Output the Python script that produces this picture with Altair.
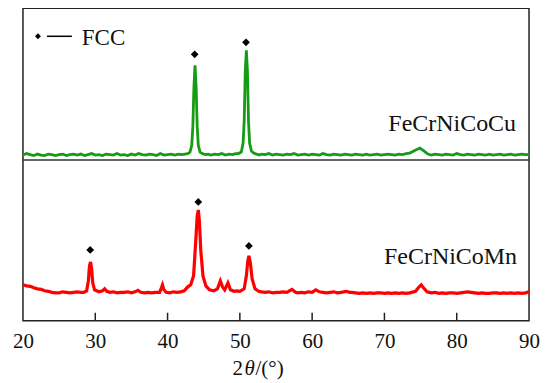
import altair as alt
import pandas as pd

# ---- data: (2theta, offset intensity), 0 = bottom of frame ----
cu_points = [
    (20, 166), (20.5, 167.5), (21, 166.5), (21.5, 165.5), (22, 167), (22.5, 166), (23, 165.5),
    (23.5, 167), (24, 166.5), (24.5, 165.5), (25, 166.5), (25.5, 167), (26, 165.5), (26.5, 166.5),
    (27, 167), (27.5, 166), (28, 167), (28.5, 165.5), (29, 166.5), (29.5, 167.5), (30, 166),
    (30.5, 166.5), (31, 165.5), (31.5, 167), (32, 166.5), (32.5, 166), (33, 167.5), (33.5, 166),
    (34, 166.5), (34.5, 165.5), (35, 167), (35.5, 166), (36, 167.5), (36.5, 166.5), (37, 166),
    (37.5, 167), (38, 166.5), (38.5, 165.5), (39, 167.5), (39.5, 166), (40, 166.5), (40.5, 167),
    (41, 166), (41.5, 167), (42, 166.5), (42.4, 167),
    (42.8, 167.5), (43.1, 169), (43.35, 176), (43.5, 195), (43.65, 235), (43.8, 256),
    (43.95, 235), (44.1, 195), (44.25, 176), (44.5, 169), (44.8, 167.5), (45.2, 166.5),
    (45.6, 167), (46, 166), (46.5, 167), (47, 166.5), (47.5, 167.5), (48, 166), (48.5, 167),
    (49, 166.5), (49.4, 167.5), (49.8, 167.5), (50.2, 169), (50.45, 178), (50.6, 200),
    (50.75, 250), (50.9, 271), (51.05, 250), (51.2, 200), (51.35, 178), (51.6, 170),
    (51.9, 168), (52.3, 167), (52.7, 166), (53, 167), (53.5, 166.5),
    (54, 167.5), (54.5, 166), (55, 167), (55.5, 166.5), (56, 166), (56.5, 167), (57, 166.5),
    (57.5, 167.5), (58, 166), (58.5, 166.5), (59, 167), (59.5, 166), (60, 167), (60.5, 166.5),
    (61, 166), (61.5, 167.5), (62, 166.5), (62.5, 166), (63, 167), (63.5, 166.5), (64, 166),
    (64.5, 167), (65, 166.5), (65.5, 166), (66, 167), (66.5, 166.5), (67, 166), (67.5, 167),
    (68, 166), (68.5, 166.5), (69, 167), (69.5, 166), (70, 166.5), (70.5, 167), (71, 166.5),
    (71.5, 166), (72, 167), (72.5, 166.5), (73, 167.5), (73.5, 168), (74.2, 170.5),
    (74.9, 173), (75.5, 170), (76, 167), (76.5, 166), (77, 167), (77.5, 166.5), (78, 166),
    (78.5, 167), (79, 166.5), (79.5, 166), (80, 167.5), (80.5, 166.5), (81, 166), (81.5, 167),
    (82, 166.5), (82.5, 166), (83, 167), (83.5, 166.5), (84, 166), (84.5, 167), (85, 166),
    (85.5, 166.5), (86, 167), (86.5, 166), (87, 166.5), (87.5, 167), (88, 166), (88.5, 166.5),
    (89, 167), (89.5, 166.5), (90, 166.5),
]

mn_points = [
    (20, 36), (20.5, 35), (21, 34.5), (21.5, 33), (22, 32), (22.5, 31.5), (23, 30), (23.5, 29.5),
    (24, 28.5), (24.5, 28), (25, 28), (25.5, 29), (26, 28.5), (26.5, 28), (27, 28.5), (27.5, 29),
    (28, 28.5), (28.4, 28.5), (28.8, 30), (29.05, 40), (29.2, 55), (29.35, 59), (29.5, 52),
    (29.65, 38), (29.9, 31), (30.5, 29), (31.0, 30), (31.3, 32), (31.6, 29.5), (32, 28.5),
    (32.5, 29), (33, 28), (33.5, 28.5), (34, 28.5), (34.5, 29), (35, 28), (35.5, 29),
    (35.9, 30.5), (36.3, 28.5), (36.8, 28), (37.3, 28.5), (37.8, 28), (38.3, 28.5),
    (38.9, 28.5), (39.15, 33), (39.3, 36), (39.5, 31), (39.8, 28.5), (40.3, 28), (40.8, 29),
    (41.3, 28.5), (41.8, 29), (42.3, 30), (42.8, 34), (43.2, 36), (43.6, 45), (43.9, 80),
    (44.1, 105), (44.25, 111), (44.4, 100), (44.6, 70), (44.9, 45), (45.3, 35), (45.8, 31),
    (46.4, 30), (46.9, 32), (47.3, 40), (47.6, 34), (47.9, 31), (48.35, 38), (48.7, 31),
    (49.2, 29.5), (49.6, 30), (50, 29.5), (50.6, 32), (50.9, 45), (51.1, 60), (51.25, 65),
    (51.45, 58), (51.7, 42), (52.1, 32), (52.6, 29.5), (53, 29), (53.5, 28.5), (54, 29),
    (54.5, 28), (55, 28.5), (55.5, 28.5), (56, 29), (56.5, 28.5), (57.2, 31.5), (57.7, 28.5),
    (58, 28), (58.5, 28.5), (59, 28), (59.5, 29), (60, 28.5), (60.5, 31), (61, 29),
    (61.5, 28.5), (62, 28), (62.5, 28.5), (63, 29), (63.5, 28), (64, 28.5), (64.7, 29.5),
    (65.2, 28.5), (65.5, 28.5), (66, 28), (66.5, 27.5), (67, 28), (67.5, 27.5), (68, 28),
    (68.5, 27.5), (69, 28), (69.5, 28), (70, 27.5), (70.5, 28), (71, 27.5), (71.5, 28),
    (72, 27.5), (72.5, 28), (73, 27.5), (73.5, 28), (74.3, 29.5), (74.8, 34), (75.1, 36),
    (75.4, 33), (75.9, 29), (76.5, 28), (77, 28.5), (77.5, 27.5), (78, 28), (78.5, 27.5),
    (79, 28), (79.5, 28), (80, 27.5), (80.5, 28), (81, 28.5), (81.5, 29), (82, 28.5),
    (82.5, 28), (83, 27.5), (83.5, 28), (84, 27.5), (84.5, 27.5), (85, 28), (85.5, 28),
    (86, 27.5), (86.5, 28), (87, 27.5), (87.5, 28), (88, 27.5), (88.5, 28), (89, 27.5),
    (89.5, 28), (90, 29),
]

fcc_x = [43.75, 50.85, 29.3, 44.25, 51.25]
fcc_y = [267, 279, 71, 119, 75]

tick_values = [30, 40, 50, 60, 70, 80]
axis_values = [20, 30, 40, 50, 60, 70, 80, 90]
sample_names = ["FeCrNiCoCu", "FeCrNiCoMn"]

W, H = 507, 313
FONT = "Times New Roman, Liberation Serif, DejaVu Serif, serif"

cu = pd.DataFrame(cu_points, columns=["x", "y"])
mn = pd.DataFrame(mn_points, columns=["x", "y"])
fcc = pd.DataFrame({"x": fcc_x, "y": fcc_y})
ticks = pd.DataFrame({"x": tick_values})

xs = alt.Scale(domain=[20, 90], nice=False, zero=False)
ys = alt.Scale(domain=[0, 313], nice=False, zero=False)

xax = alt.Axis(values=axis_values, format="d", ticks=False, grid=False, domain=False,
               title=None, labelFont=FONT, labelFontSize=21, labelColor="#111",
               labelPadding=10, labelFlush=False)

cu_line = alt.Chart(cu).mark_line(color="#149c14", strokeWidth=2.8).encode(
    x=alt.X("x:Q", scale=xs, axis=xax),
    y=alt.Y("y:Q", scale=ys, axis=None),
)
mn_line = alt.Chart(mn).mark_line(color="#ff0000", strokeWidth=3.2).encode(
    x=alt.X("x:Q", scale=xs),
    y=alt.Y("y:Q", scale=ys),
)
marks = alt.Chart(fcc).mark_point(shape="diamond", filled=True, color="black", size=60, opacity=1).encode(
    x=alt.X("x:Q", scale=xs),
    y=alt.Y("y:Q", scale=ys),
)
tick_rules = alt.Chart(ticks).mark_rule(color="#222", strokeWidth=1.5).encode(
    x=alt.X("x:Q", scale=xs),
    y=alt.value(H),
    y2=alt.value(H - 8),
)
divider = alt.Chart(pd.DataFrame({"a": [0]})).mark_rule(color="#333", strokeWidth=1.5).encode(
    x=alt.value(0), x2=alt.value(W), y=alt.value(152)
)

lab_cu = alt.Chart(pd.DataFrame({"t": [sample_names[0]]})).mark_text(
    font=FONT, fontSize=24, align="right", baseline="alphabetic", color="#111"
).encode(text="t:N", x=alt.value(494), y=alt.value(123))
lab_mn = alt.Chart(pd.DataFrame({"t": [sample_names[1]]})).mark_text(
    font=FONT, fontSize=24, align="right", baseline="alphabetic", color="#111"
).encode(text="t:N", x=alt.value(495), y=alt.value(256))

leg_pt = alt.Chart(pd.DataFrame({"a": [0]})).mark_point(
    shape="diamond", filled=True, color="black", size=35, opacity=1
).encode(x=alt.value(15), y=alt.value(28))
leg_ln = alt.Chart(pd.DataFrame({"a": [0]})).mark_rule(color="black", strokeWidth=1.5).encode(
    x=alt.value(24), x2=alt.value(49), y=alt.value(28)
)
leg_tx = alt.Chart(pd.DataFrame({"t": ["FCC"]})).mark_text(
    font=FONT, fontSize=23, align="left", baseline="alphabetic", color="#111"
).encode(text="t:N", x=alt.value(59), y=alt.value(37))

t1 = alt.Chart(pd.DataFrame({"t": ["2"]})).mark_text(
    font=FONT, fontSize=21, align="left", baseline="alphabetic", color="#111"
).encode(text="t:N", x=alt.value(210), y=alt.value(367))
t2 = alt.Chart(pd.DataFrame({"t": ["θ"]})).mark_text(
    font=FONT, fontSize=21, fontStyle="italic", align="left", baseline="alphabetic", color="#111"
).encode(text="t:N", x=alt.value(222), y=alt.value(367))
t3 = alt.Chart(pd.DataFrame({"t": ["/(°)"]})).mark_text(
    font=FONT, fontSize=21, align="left", baseline="alphabetic", color="#111"
).encode(text="t:N", x=alt.value(233), y=alt.value(367))

chart = alt.layer(
    cu_line, mn_line, marks, tick_rules, divider, lab_cu, lab_mn, leg_pt, leg_ln, leg_tx, t1, t2, t3
).properties(
    width=W, height=H,
    autosize=alt.AutoSizeParams(type="none"),
    padding={"left": 15, "top": 0, "right": 12, "bottom": 60},
).configure_view(
    stroke="#222", strokeWidth=1.5
)

chart.save("out.html", embed_options={"renderer": "svg", "actions": False})
